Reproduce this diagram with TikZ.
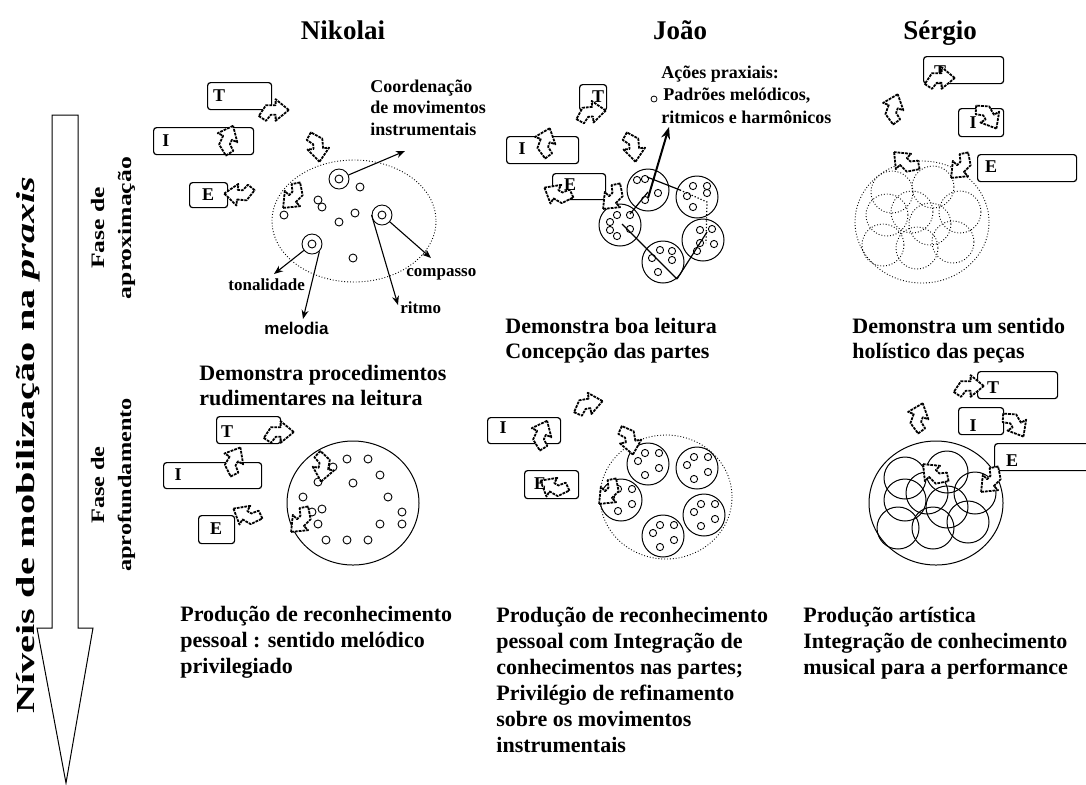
\documentclass[tikz,border=0pt]{standalone}
\usepackage{fontspec}
\usepackage{graphicx}
\setmainfont{Liberation Serif}
\newfontfamily\sansf{Liberation Sans}
\usetikzlibrary{arrows.meta}
\newcommand\blkarrow[4][1.2]{\draw[blk, shift={(#2,#3)}, rotate=#4, scale=#1] (14,0) -- (3,-9) -- (3,-4) -- (-5,-4) -- (-11,5) -- (-5,9) -- (-1,4) -- (3,4) -- (3,9) -- cycle;}
\begin{document}
\begin{tikzpicture}[x=0.5pt,y=-0.5pt,
  hdr/.style={font=\fontsize{13.5}{16}\selectfont\bfseries, inner sep=0, anchor=base},
  txt/.style={font=\fontsize{11}{13}\selectfont\bfseries, inner sep=0, anchor=base west},
  lbl/.style={font=\fontsize{9}{10.75}\selectfont\bfseries, inner sep=0, anchor=base west},
  tinyl/.style={font=\fontsize{8.5}{10}\selectfont\bfseries, inner sep=0, anchor=base west},
  tbox/.style={draw, rounded corners=1.5pt, line width=0.6pt},
  letter/.style={font=\fontsize{9}{10}\selectfont\bfseries, inner sep=0},
  blk/.style={draw, fill=white, line width=0.9pt, dash pattern=on 1.4pt off 0.5pt, line join=round},
  sc/.style={circle, draw, line width=0.45pt, minimum size=4pt, inner sep=0},
  ssc/.style={circle, draw, line width=0.45pt, minimum size=3.6pt, inner sep=0},
  dc/.style={circle, draw, line width=0.45pt, minimum size=10pt, inner sep=0},
  bigc/.style={circle, draw, line width=0.5pt, minimum size=21pt, inner sep=0},
  dotc/.style={draw, densely dotted, line width=0.45pt},
  pt/.style={-{Stealth[length=4.5pt,width=3.5pt]}, line width=0.55pt},
  thpt/.style={-{Stealth[length=6pt,width=4.5pt]}, line width=1pt},
  vtxt/.style={rotate=90, inner sep=0, align=center}
]
\useasboundingbox (0,0) rectangle (1086,784);

% ---------- left big arrow and rotated labels
\draw[line width=0.5pt] (52,115) -- (78,115) -- (78,628) -- (93,628) -- (66,783) -- (37,628) -- (52,628) -- cycle;
\node[vtxt, font=\fontsize{13}{15}\selectfont\bfseries] (vt) at (28,445) {\scalebox{1.55}[1]{Níveis de mobilização na \textit{praxis}}};
\node[vtxt, font=\fontsize{9.5}{13.5}\selectfont\bfseries] (fa1) at (113,228) {\scalebox{1.35}[1]{Fase de}\\\scalebox{1.35}[1]{aproximação}};
\node[vtxt, font=\fontsize{9.5}{13.5}\selectfont\bfseries] (fa2) at (113,485) {\scalebox{1.28}[1]{Fase de}\\\scalebox{1.28}[1]{aprofundamento}};

% ---------- headers
\node[hdr] (h1) at (343,39) {Nikolai};
\node[hdr] (h2) at (680,39) {João};
\node[hdr] (h3) at (940,39) {Sérgio};

% ================= NIKOLAI TOP
\draw[dotc] (354,221) ellipse [x radius=82, y radius=61];
\node[tbox, minimum width=32pt, minimum height=13.5pt, anchor=north west] (nT) at (207,82) {};
\node[tbox, minimum width=50pt, minimum height=13.5pt, anchor=north west] (nI) at (153,127) {};
\node[tbox, minimum width=19pt, minimum height=12.5pt, anchor=north west] (nE) at (189,182) {};
\foreach \p/\q [count=\k] in {360/187,318/200,322/207,284/215,355/213,339/222,353/258}
  \node[sc] (ns\k) at (\p,\q) {};
\node[dc] (nd1) at (339,179) {}; \node[sc] (ni1) at (339,179) {};
\node[dc] (nd2) at (382,215) {}; \node[sc] (ni2) at (382,215) {};
\node[dc] (nd3) at (312,244) {}; \node[sc] (ni3) at (312,244) {};
\coordinate (nc1) at (405,151);
\coordinate (nc2) at (431,258);
\coordinate (nc3) at (398,305);
\coordinate (nc4) at (274,274);
\coordinate (nc5) at (303,319);
\draw[pt] (nd1) -- (nc1);
\draw[pt] (nd2) -- (nc2);
\draw[pt] (nd2.west) -- (nc3);
\draw[pt] (nd3) -- (nc4);
\draw[pt] (nd3.south east) -- (nc5);
\blkarrow{272}{110}{0}
\blkarrow{226}{141}{65}
\blkarrow{241}{195}{175}
\blkarrow{318}{145}{275}
\blkarrow{295}{196}{225}
\node[letter] (nTl) at (219,96) {T};
\node[letter] (nIl) at (166,141) {I};
\node[letter] (nEl) at (208,195) {E};
\node[lbl] (lc1) at (370,92) {Coordenação};
\node[lbl] (lc2) at (370,113) {de movimentos};
\node[lbl] (lc3) at (370,135) {instrumentais};
\node[tinyl] (lton) at (228,290) {tonalidade};
\node[tinyl] (lcom) at (406,276) {compasso};
\node[tinyl] (lrit) at (400,313) {ritmo};
\node[tinyl, font=\fontsize{8.5}{10}\selectfont\sansf\bfseries] (lmel) at (264,334) {melodia};

% ================= JOAO TOP
\node[tbox, minimum width=13.5pt, minimum height=13pt, anchor=north west] (jT) at (579,84) {};
\node[tbox, minimum width=36pt, minimum height=13.5pt, anchor=north west] (jI) at (506,136) {};
\node[tbox, minimum width=26.5pt, minimum height=13pt, anchor=north west] (jE) at (552,173) {};
\foreach \p/\q [count=\k] in {648/190,697/197,703/240,663/262,620/225}
  \node[bigc] (jc\k) at (\p,\q) {};
\foreach \p/\q [count=\k] in {637/180,645/179,658/193,645/200,
   693/186,707/186,707/193,693/207,687/196,
   700/230,712/229,700/243,714/244,697/251,
   660/250,672/251,652/258,672/260,658/272,
   617/215,630/215,610/222,610/230,617/236,630/229}
  \node[ssc] (js\k) at (\p,\q) {};
\draw[line width=0.6pt] (647,177) -- (680,190);
\draw[line width=0.6pt, densely dotted] (680,190) -- (707,202) -- (706,243);
\draw[line width=0.6pt] (707,232) -- (677,279);
\draw[line width=0.6pt] (677,279) -- (622,224);
\draw[line width=0.6pt] (630,214) -- (648,192);
\coordinate (jst) at (648,198);
\coordinate (jtip) at (669,127);
\draw[thpt] (jst) -- (jtip);
\node[circle, draw, line width=0.4pt, minimum size=3pt, inner sep=0] (jo) at (654,99) {};
\blkarrow{589}{112}{5}
\blkarrow{544}{144}{70}
\blkarrow{559}{196}{150}
\blkarrow{634}{145}{275}
\blkarrow{615}{197}{225}
\node[letter] (jTl) at (598,97) {T};
\node[letter] (jIl) at (522,149) {I};
\node[letter] (jEl) at (570,185) {E};
\node[lbl] (la1) at (661,78) {Ações praxiais:};
\node[lbl] (la2) at (663,100.5) {Padrões melódicos,};
\node[lbl] (la3) at (661,123) {ritmicos e harmônicos};

% ================= SERGIO TOP
\draw[dotc] (922,222) ellipse [x radius=67, y radius=61];
\foreach \p/\q [count=\k] in {892/192,933/187,887/215,912/212,930/224,960/212,883/245,917/248,953/242}
  \draw[dotc] (\p,\q) circle [radius=21];
\node[tbox, minimum width=40pt, minimum height=13.5pt, anchor=north west] (sT) at (923,56) {};
\node[tbox, minimum width=22.5pt, minimum height=14pt, anchor=north west] (sI) at (958,108) {};
\node[tbox, minimum width=49.5pt, minimum height=13.5pt, anchor=north west] (sE) at (977,154) {};
\node[letter] (sTl) at (940,72) {T};
\node[letter] (sIl) at (973,123) {I};
\blkarrow{938}{78}{0}
\blkarrow{988}{114}{300}
\blkarrow{892}{110}{70}
\blkarrow{906}{164}{135}
\blkarrow{963}{166}{225}
\node[letter] (sEl) at (991,167) {E};

% ================= NIKOLAI BOTTOM
\draw[line width=0.5pt] (353,503) ellipse [x radius=66, y radius=62];
\foreach \p/\q [count=\k] in {347/459,368/459,333/467,380/475,353/483,318/482,388/497,303/497,322/509,312/512,402/512,318/524,380/524,402/524,326/540,347/540,368/540}
  \node[sc] (bs\k) at (\p,\q) {};
\node[tbox, minimum width=32pt, minimum height=13.5pt, anchor=north west] (bT) at (216,416) {};
\node[tbox, minimum width=49pt, minimum height=13pt, anchor=north west] (bI) at (163,462) {};
\node[tbox, minimum width=18pt, minimum height=14pt, anchor=north west] (bE) at (198,515) {};
\blkarrow{277}{432}{0}
\blkarrow{232}{462}{60}
\blkarrow{248}{517}{150}
\blkarrow{324}{465}{260}
\blkarrow{303}{520}{225}
\node[letter] (bTl) at (227,432) {T};
\node[letter] (bIl) at (178,475) {I};
\node[letter] (bEl) at (216,529) {E};
\node[txt] (m1a) at (199,380) {Demonstra procedimentos};
\node[txt] (m1b) at (199,405) {rudimentares na leitura};

% ================= JOAO BOTTOM
\draw[dotc] (666,497) ellipse [x radius=66, y radius=62];
\foreach \p/\q [count=\k] in {648/464,697/468,704/515,663/536,621/500}{
  \node[bigc] (kc\k) at (\p,\q) {};
  \foreach \dx/\dy [count=\m] in {-10/-3,-3/-11,11/-11,11/4,-3/11}
    \node[ssc] (ks\k\m) at (\p+\dx,\q+\dy) {};
}
\node[tbox, minimum width=36.5pt, minimum height=13pt, anchor=north west] (kI) at (487,417) {};
\node[tbox, minimum width=27pt, minimum height=14pt, anchor=north west] (kE) at (524,470) {};
\blkarrow{586}{404}{10}
\blkarrow{540}{436}{65}
\blkarrow{555}{489}{150}
\blkarrow{630}{438}{280}
\blkarrow{611}{492}{225}
\node[letter] (kIl) at (503,428) {I};
\node[letter] (kEl) at (540,484) {E};

% ================= SERGIO BOTTOM
\draw[line width=0.5pt] (936,503) ellipse [x radius=67, y radius=62];
\foreach \p/\q [count=\k] in {905/478,947/472,905/500,927/493,947/507,975/493,898/528,933/528,968/522}
  \node[bigc] (rc\k) at (\p,\q) {};
\node[tbox, minimum width=40pt, minimum height=13.5pt, anchor=north west] (rT) at (977,371) {};
\node[tbox, minimum width=22.5pt, minimum height=13.5pt, anchor=north west] (rI) at (958,407) {};
\node[tbox, minimum width=50pt, minimum height=13.5pt, anchor=north west] (rE) at (994,443) {};
\blkarrow{967}{386}{0}
\blkarrow{1015}{422}{300}
\blkarrow{993}{480}{225}
\blkarrow{917}{419}{70}
\blkarrow{935}{476}{135}
\node[letter] (rTl) at (993,388) {T};
\node[letter] (rIl) at (973,426) {I};
\node[letter] (rEl) at (1012,461) {E};

% ---------- middle texts
\node[txt] (m2a) at (505,333) {Demonstra boa leitura};
\node[txt] (m2b) at (505,358) {Concepção das partes};
\node[txt] (m3a) at (852,333) {Demonstra um sentido};
\node[txt] (m3b) at (852,358) {holístico das peças};

% ---------- bottom texts
\node[txt] (p1a) at (180,621) {Produção de reconhecimento};
\node[txt] (p1b) at (180,647) {pessoal : sentido melódico};
\node[txt] (p1c) at (180,673) {privilegiado};
\node[txt] (p2a) at (496,622) {Produção de reconhecimento};
\node[txt] (p2b) at (496,648) {pessoal com Integração de};
\node[txt] (p2c) at (496,674) {conhecimentos nas partes;};
\node[txt] (p2d) at (496,700) {Privilégio de refinamento};
\node[txt] (p2e) at (496,726) {sobre os movimentos};
\node[txt] (p2f) at (496,752) {instrumentais};
\node[txt] (p3a) at (803,622) {Produção artística};
\node[txt] (p3b) at (803,648) {Integração de conhecimento};
\node[txt] (p3c) at (803,674) {musical para a performance};
\end{tikzpicture}
\end{document}
